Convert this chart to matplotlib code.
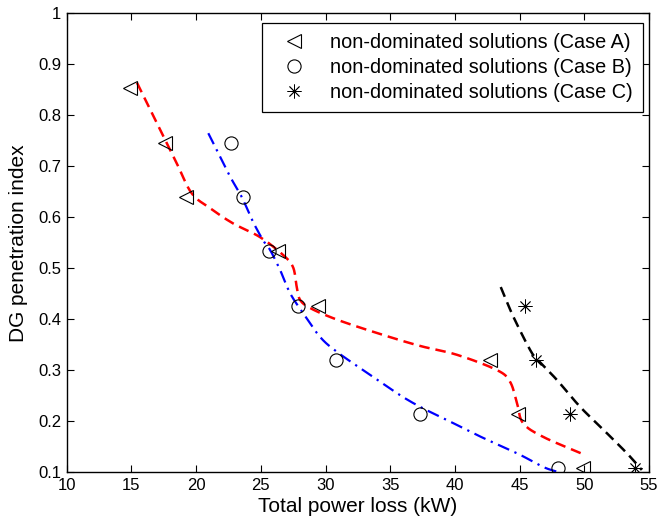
import numpy as np
import matplotlib
matplotlib.use("Agg")
import matplotlib.pyplot as plt
from matplotlib.ticker import FuncFormatter

plt.rcParams['font.family'] = ['Liberation Sans', 'DejaVu Sans']

# ---- data ----
case_a_loss = [14.9, 17.6, 19.2, 26.3, 29.4, 42.7, 44.9, 49.9]
case_a_dg = [0.853, 0.746, 0.640, 0.533, 0.426, 0.320, 0.213, 0.107]

case_b_loss = [22.7, 23.6, 25.6, 27.9, 30.8, 37.3, 48.0]
case_b_dg = [0.746, 0.640, 0.533, 0.426, 0.320, 0.213, 0.107]

case_c_loss = [45.4, 46.3, 48.9, 53.9]
case_c_dg = [0.426, 0.320, 0.213, 0.107]

# fitted trend curves (knots)
fit_a_loss = [15.43, 16.96, 18.50, 19.66, 21.07, 22.85, 24.94, 26.72, 27.49, 27.77,
              28.03, 28.80, 30.58, 33.21, 37.07, 40.16, 43.25, 44.26, 44.80, 45.26,
              46.81, 49.90]
fit_a_dg = [0.864, 0.785, 0.706, 0.647, 0.618, 0.588, 0.561, 0.526, 0.502, 0.464,
            0.438, 0.422, 0.402, 0.379, 0.349, 0.330, 0.300, 0.277, 0.235, 0.196,
            0.169, 0.135]

fit_b_loss = [20.94, 21.59, 22.62, 23.52, 24.40, 25.17, 25.71, 26.48, 27.26, 28.26,
              29.58, 30.87, 32.90, 35.50, 37.30, 39.62, 42.17, 44.78, 46.81, 47.96]
fit_b_dg = [0.765, 0.732, 0.680, 0.640, 0.591, 0.555, 0.536, 0.497, 0.451, 0.412,
            0.365, 0.336, 0.300, 0.255, 0.228, 0.199, 0.167, 0.137, 0.110, 0.100]

fit_c_loss = [43.54, 44.51, 45.80, 46.37, 47.87, 49.67, 51.47, 53.28, 54.44]
fit_c_dg = [0.463, 0.405, 0.340, 0.321, 0.281, 0.228, 0.183, 0.137, 0.104]

x_ticks = [10, 15, 20, 25, 30, 35, 40, 45, 50, 55]
y_ticks = [0.1, 0.2, 0.3, 0.4, 0.5, 0.6, 0.7, 0.8, 0.9, 1.0]


def smooth(xs, ys, n=16):
    p = np.column_stack([xs, ys]).astype(float)
    p = np.vstack([2 * p[0] - p[1], p, 2 * p[-1] - p[-2]])
    out = []
    t = np.linspace(0, 1, n, endpoint=False)[:, None]
    for i in range(1, len(p) - 2):
        p0, p1, p2, p3 = p[i - 1], p[i], p[i + 1], p[i + 2]
        seg = 0.5 * ((2 * p1) + (-p0 + p2) * t + (2 * p0 - 5 * p1 + 4 * p2 - p3) * t ** 2
                     + (-p0 + 3 * p1 - 3 * p2 + p3) * t ** 3)
        out.append(seg)
    out.append(p[-2][None, :])
    out = np.vstack(out)
    return out[:, 0], out[:, 1]


fig = plt.figure(figsize=(6.58, 5.27), dpi=100)
ax = fig.add_axes([0.1014, 0.1044, 0.885, 0.870])

sx, sy = smooth(fit_a_loss, fit_a_dg)
ax.plot(sx, sy, color='red', lw=1.8, dashes=(4.2, 2.4))
sx, sy = smooth(fit_b_loss, fit_b_dg)
ax.plot(sx, sy, color='blue', lw=1.6, dashes=(5.5, 2.6, 1, 2.6))
sx, sy = smooth(fit_c_loss, fit_c_dg)
ax.plot(sx, sy, color='black', lw=1.8, dashes=(4.2, 2.4))

ax.plot(case_a_loss, case_a_dg, ls='none', marker='<', ms=9.5, mfc='none',
        mec='black', mew=0.8, label='non-dominated solutions (Case A)')
ax.plot(case_b_loss, case_b_dg, ls='none', marker='o', ms=9.5, mfc='none',
        mec='black', mew=0.8, label='non-dominated solutions (Case B)')
ax.plot(case_c_loss, case_c_dg, ls='none', marker=(8, 2, 0), ms=10, mfc='none',
        mec='black', mew=0.6, label='non-dominated solutions (Case C)')

ax.set_xlim(10, 55)
ax.set_ylim(0.1, 1.0)
ax.set_xticks(x_ticks)
ax.set_yticks(y_ticks)
ax.yaxis.set_major_formatter(FuncFormatter(lambda v, p: '%g' % round(v, 2)))
ax.tick_params(direction='in', top=True, right=True, length=5, width=0.8,
               labelsize=12, pad=4)
for s in ax.spines.values():
    s.set_linewidth(1.0)

ax.set_xlabel('Total power loss (kW)', fontsize=15, labelpad=3)
ax.set_ylabel('DG penetration index', fontsize=15, labelpad=7)

leg = ax.legend(loc='upper right', bbox_to_anchor=(643 / 658, 1 - 23 / 527),
                bbox_transform=fig.transFigure, borderaxespad=0,
                fontsize=14.3, frameon=True, fancybox=False,
                edgecolor='black', framealpha=1,
                handletextpad=0.75, handlelength=2.2, labelspacing=0.3,
                borderpad=0.5)
leg.get_frame().set_linewidth(0.9)

fig.savefig('out.png', dpi=100)
